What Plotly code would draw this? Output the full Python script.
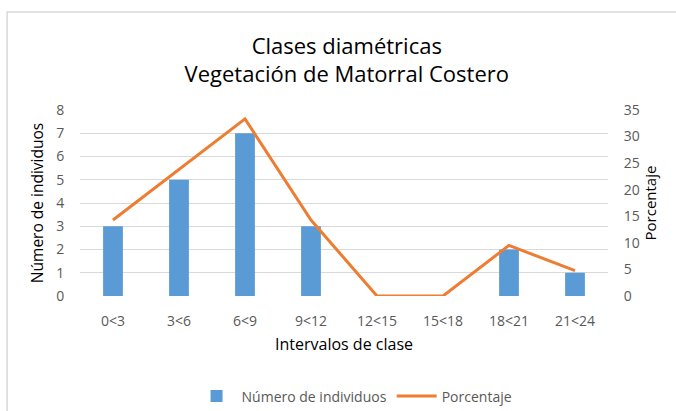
import plotly.graph_objects as go

# Diameter classes and tallies
intervalos = ["0<3", "3<6", "6<9", "9<12", "12<15", "15<18", "18<21", "21<24"]
num_individuos = [3, 5, 7, 3, 0, 0, 2, 1]
porcentaje = [14.29, 23.81, 33.33, 14.29, 0, 0, 9.52, 4.76]

FONT = "Open Sans"
GRIS = "#595959"
CLEAR = "rgba(0,0,0,0)"

fig = go.Figure()
fig.add_trace(go.Bar(
    x=intervalos, y=num_individuos, name="Número de individuos",
    marker=dict(color="#5B9BD5", line=dict(width=0)), yaxis="y",
))
fig.add_trace(go.Scatter(
    x=intervalos, y=porcentaje, name="Porcentaje", mode="lines",
    line=dict(color="#ED7D31", width=3), yaxis="y2",
))

fig.update_layout(
    width=676, height=411,
    margin=dict(l=80, r=68, t=110, b=115, autoexpand=False),
    paper_bgcolor="white", plot_bgcolor="white",
    font=dict(family=FONT, color=GRIS, size=12),
    bargap=0.7,
    title=dict(
        text="Clases diamétricas<br>Vegetación de Matorral Costero",
        xref="container", x=0.513, xanchor="center",
        yref="container", y=0.869, yanchor="middle",
        font=dict(family=FONT, size=22, color="black"),
    ),
    xaxis=dict(
        automargin=False,
        showgrid=False, showline=False, ticks="outside", ticklen=12, tickcolor=CLEAR,
        tickfont=dict(size=14, color=GRIS),
        title=dict(text="Intervalos de clase", font=dict(size=16, color="black"), standoff=10),
    ),
    yaxis=dict(
        automargin=False,
        range=[0, 8], dtick=1, showgrid=True, gridcolor="#D9D9D9", gridwidth=1,
        zeroline=False, showline=False, ticks="outside", ticklen=12, tickcolor=CLEAR,
        tickfont=dict(size=14, color=GRIS),
        title=dict(text="Número de individuos", font=dict(size=15.5, color="black"), standoff=8),
    ),
    yaxis2=dict(
        automargin=False,
        range=[0, 35], dtick=5, overlaying="y", side="right", showgrid=False,
        zeroline=False, showline=False, ticks="outside", ticklen=12, tickcolor=CLEAR,
        tickfont=dict(size=14, color=GRIS),
        title=dict(text="Porcentaje", font=dict(size=15, color="black"), standoff=6),
    ),
    legend=dict(
        orientation="h", x=0.52, xanchor="center", y=-0.54, yanchor="middle",
        font=dict(size=14, color=GRIS), itemwidth=40, traceorder="normal",
    ),
    shapes=[dict(
        type="rect", xref="paper", yref="paper",
        x0=-0.138, x1=1.3, y0=-1.5, y1=1.527,
        line=dict(color="#D9D9D9", width=1.5), fillcolor=CLEAR, layer="below",
    )],
)

fig.write_html("out.html")
